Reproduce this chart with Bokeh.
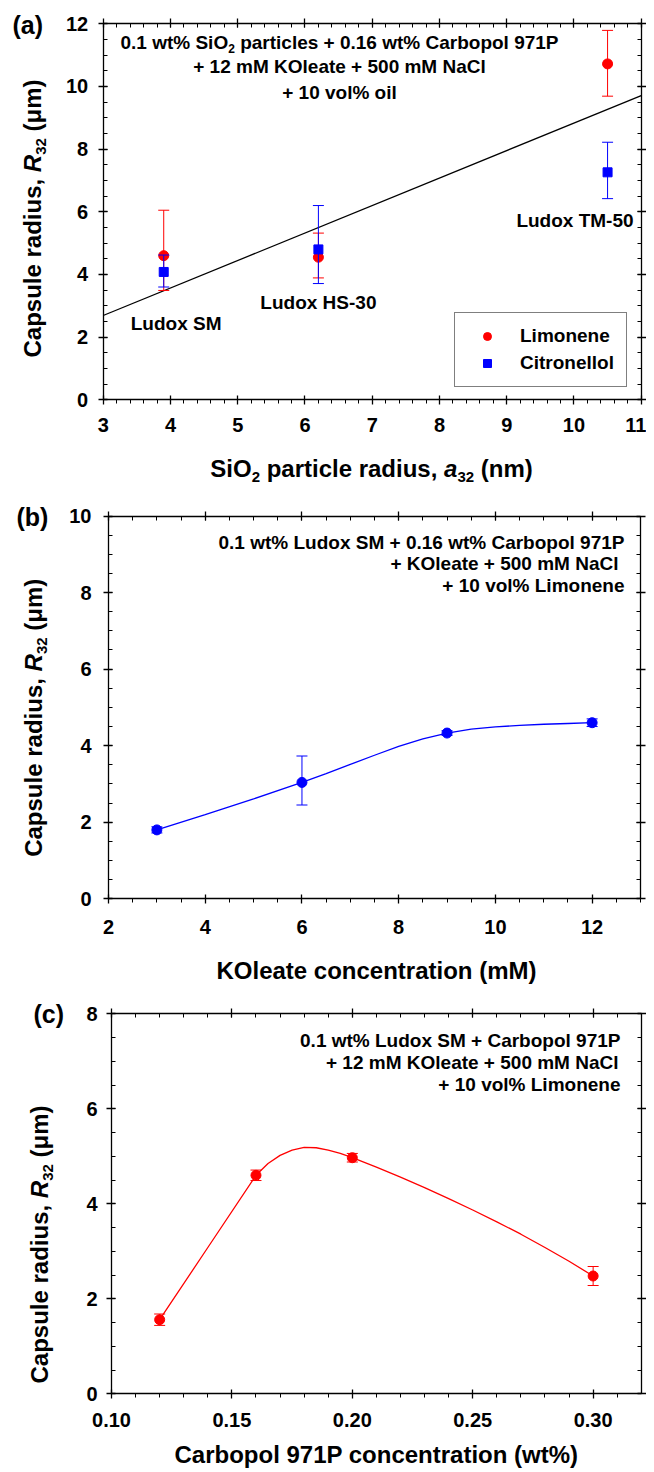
import math
from bokeh.plotting import figure
from bokeh.models import (LinearAxis, SingleIntervalTicker, Label, Range1d,
                          PrintfTickFormatter, Legend, LegendItem)
from bokeh.layouts import column
from bokeh.embed import file_html
from bokeh.resources import INLINE

FONT = "Liberation Sans"
RED = "#ff0000"
BLUE = "#0000ff"

# ---------------- data: panel (a) ----------------
a_particle_radius = [3.9, 6.2, 10.5]
a_limonene = [4.60, 4.55, 10.72]
a_limonene_hi = [6.05, 5.32, 11.79]
a_limonene_lo = [3.49, 3.89, 9.69]
a_citronellol = [4.08, 4.80, 7.26]
a_citronellol_hi = [4.62, 6.20, 8.22]
a_citronellol_lo = [3.60, 3.71, 6.42]
a_fit_x = [3.0, 11.0]
a_fit_y = [2.69, 9.71]
a_names = ["Ludox SM", "Ludox HS-30", "Ludox TM-50"]
a_legend = ["Limonene", "Citronellol"]

# ---------------- data: panel (b) ----------------
b_koleate = [3, 6, 9, 12]
b_radius = [1.80, 3.04, 4.33, 4.60]
b_hi = [1.88, 3.73, 4.39, 4.70]
b_lo = [1.72, 2.45, 4.27, 4.50]
b_curve_x = [3, 4, 5, 6, 6.5, 7, 7.5, 8, 8.5, 9, 9.5, 10, 10.5, 11, 11.5, 12]
b_curve_y = [1.80, 2.20, 2.61, 3.04, 3.27, 3.51, 3.75, 3.98, 4.18, 4.33, 4.43, 4.49, 4.53, 4.56, 4.58, 4.60]

# ---------------- data: panel (c) ----------------
c_carbopol = [0.12, 0.16, 0.20, 0.30]
c_radius = [1.56, 4.60, 4.97, 2.48]
c_hi = [1.68, 4.71, 5.06, 2.68]
c_lo = [1.44, 4.49, 4.88, 2.28]
c_curve_x = [0.12, 0.14, 0.16, 0.165, 0.17, 0.175, 0.18, 0.185, 0.19, 0.195, 0.20,
             0.21, 0.22, 0.23, 0.24, 0.25, 0.26, 0.27, 0.28, 0.29, 0.30]
c_curve_y = [1.56, 3.08, 4.60, 4.85, 5.02, 5.13, 5.19, 5.18, 5.13, 5.06, 4.97,
             4.77, 4.56, 4.34, 4.11, 3.87, 3.62, 3.36, 3.08, 2.79, 2.48]

# ---------------- texts ----------------
y_title = [("Capsule radius, ", 24, False, 0), ("R", 24, True, 0), ("32", 15, False, 5),
           (" (\u03bcm)", 24, False, 0)]
a_x_title = [("SiO", 24, False, 0), ("2", 15, False, 5), (" particle radius, ", 24, False, 0),
             ("a", 24, True, 0), ("32", 15, False, 5), (" (nm)", 24, False, 0)]
b_x_title = [("KOleate concentration (mM)", 24, False, 0)]
c_x_title = [("Carbopol 971P concentration (wt%)", 24, False, 0)]
a_note = [
    [("0.1 wt% SiO", 19, False, 0), ("2", 12, False, 4),
     (" particles + 0.16 wt% Carbopol 971P", 19, False, 0)],
    [("+ 12 mM KOleate + 500 mM NaCl", 19, False, 0)],
    [("+ 10 vol% oil", 19, False, 0)],
]
b_note = ["0.1 wt% Ludox SM + 0.16 wt% Carbopol 971P", "+ KOleate + 500 mM NaCl", "+ 10 vol% Limonene"]
c_note = ["0.1 wt% Ludox SM + Carbopol 971P", "+ 12 mM KOleate + 500 mM NaCl", "+ 10 vol% Limonene"]

# Arial / Liberation Sans Bold advance widths (per 1000 em)
AW = {' ': 278, '%': 889, '(': 333, ')': 333, '+': 584, ',': 278, '-': 333, '.': 278,
      'C': 722, 'K': 722, 'L': 611, 'M': 833, 'N': 722, 'O': 778, 'P': 667, 'R': 722,
      'S': 667, 'H': 722, 'T': 611, 'a': 556, 'b': 611, 'c': 556, 'd': 611, 'e': 556,
      'i': 278, 'l': 278, 'm': 889, 'n': 611, 'o': 611, 'p': 611, 'r': 389, 's': 556,
      't': 333, 'u': 611, 'v': 556, 'w': 778, 'x': 556, '\u03bc': 611}
for _d in "0123456789":
    AW[_d] = 556

W = 646   # canvas width of every panel
CAP = 0.358  # half cap height / em


def tw(s, size):
    return sum(AW.get(ch, 556) for ch in s) * size / 1000.0


class Panel:
    def __init__(self, top, height):
        self.top = top
        self.H = height

    def sy(self, page_y):
        return self.H - (page_y - self.top)


def rich(p, pieces, sx, sy, align="center", angle=0.0):
    """sx, sy: screen position of the text baseline start reference (baseline)."""
    total = sum(tw(t, s) for t, s, _, _ in pieces)
    cum = {"left": 0.0, "center": -total / 2.0, "right": -total}[align]
    for t, s, ital, shift in pieces:
        lead = len(t) - len(t.lstrip(" "))
        core = t.strip(" ")
        off = cum + tw(" " * lead, s)
        lift = CAP * s - shift   # from baseline up to centre of this piece's capitals
        if angle == 0:
            xo, yo = off, lift
        else:
            xo, yo = -lift, off
        p.add_layout(Label(x=sx, y=sy, x_units="screen", y_units="screen", x_offset=xo, y_offset=yo,
                           text=core, angle=angle, text_font=FONT, text_font_size=f"{s}px",
                           text_font_style="bold italic" if ital else "bold",
                           text_color="black", text_align="left", text_baseline="middle"))
        cum += tw(t, s)


def plain(p, text, sx, sy, size, align="left", x_units="screen", x_offset=0):
    p.add_layout(Label(x=sx, y=sy, x_units=x_units, y_units="screen", x_offset=x_offset, text=text,
                       text_font=FONT, text_font_size=f"{size}px", text_font_style="bold",
                       text_color="black", text_align=align, text_baseline="middle"))


def style_axis(ax, show_labels, standoff, minor_in, minor_out, loc, bounds):
    ax.fixed_location = loc
    ax.bounds = bounds
    ax.axis_line_color = "black"
    ax.axis_line_width = 1.3
    ax.major_tick_line_color = "black"
    ax.major_tick_line_width = 1.3
    ax.minor_tick_line_color = "black"
    ax.minor_tick_line_width = 1
    ax.major_tick_in = 4
    ax.major_tick_out = 5
    ax.minor_tick_in = minor_in
    ax.minor_tick_out = minor_out
    ax.axis_label = None
    if show_labels:
        ax.major_label_text_font = FONT
        ax.major_label_text_font_size = "20px"
        ax.major_label_text_font_style = "bold"
        ax.major_label_text_color = "black"
        ax.major_label_standoff = standoff
    else:
        ax.major_label_text_color = None
        ax.major_label_standoff = 0


def make_fig(panel, xlim, ylim, px, py, xint, xminor, yint, yminor, xstand, ystand, xfmt=None):
    """xlim/ylim: axis extents; px: canvas x of xlim; py: page y of (ylim[1], ylim[0])."""
    H = panel.H
    x0, x1 = xlim
    y0, y1 = ylim
    kx = (px[1] - px[0]) / (x1 - x0)
    ky = (py[1] - py[0]) / (y1 - y0)
    top_c = py[0] - panel.top
    bot_c = py[1] - panel.top
    xr = Range1d(x0 - px[0] / kx, x1 + (W - px[1]) / kx)
    yr = Range1d(y0 - (H - bot_c) / ky, y1 + top_c / ky)
    p = figure(x_range=xr, y_range=yr, width=W, height=H, min_border=0,
               output_backend="svg", toolbar_location=None, background_fill_color="white",
               border_fill_color="white")
    p.xgrid.visible = False
    p.ygrid.visible = False
    p.outline_line_color = None
    p.xaxis.ticker = SingleIntervalTicker(interval=xint, num_minor_ticks=xminor)
    p.yaxis.ticker = SingleIntervalTicker(interval=yint, num_minor_ticks=yminor)
    if xfmt:
        p.xaxis.formatter = PrintfTickFormatter(format=xfmt)
    style_axis(p.xaxis[0], True, xstand, 0, 4, y0, (x0, x1))
    style_axis(p.yaxis[0], True, ystand, 4, 0, x0, (y0, y1))
    top = LinearAxis(ticker=SingleIntervalTicker(interval=xint, num_minor_ticks=xminor))
    style_axis(top, False, 0, 4, 0, y1, (x0, x1))
    p.add_layout(top, "above")
    right = LinearAxis(ticker=SingleIntervalTicker(interval=yint, num_minor_ticks=yminor))
    style_axis(right, False, 0, 4, 0, x1, (y0, y1))
    p.add_layout(right, "right")
    return p


def errbars(p, x, hi, lo, color):
    p.segment(x0=x, y0=lo, x1=x, y1=hi, line_color=color, line_width=1)
    p.scatter(x=x, y=hi, marker="dash", size=11, line_color=color, line_width=1)
    p.scatter(x=x, y=lo, marker="dash", size=11, line_color=color, line_width=1)


# ================= panel (a) =================
A = Panel(0, 490)
pa = make_fig(A, (3, 11), (0, 12), (102.7, 640.7), (23.3, 399.3), 1, 5, 2, 4, 13, 10)
pa.line(a_fit_x, a_fit_y, line_color="black", line_width=1.3)
errbars(pa, a_particle_radius, a_limonene_hi, a_limonene_lo, RED)
r_lim = pa.scatter(a_particle_radius, a_limonene, marker="circle", size=10,
                   fill_color=RED, line_color=RED)
errbars(pa, a_particle_radius, a_citronellol_hi, a_citronellol_lo, BLUE)
r_cit = pa.scatter(a_particle_radius, a_citronellol, marker="square", size=9,
                   fill_color=BLUE, line_color=BLUE)
leg = Legend(items=[LegendItem(label=a_legend[0], renderers=[r_lim]),
                    LegendItem(label=a_legend[1], renderers=[r_cit])],
             location=(454, A.sy(387)))
leg.label_text_font = FONT
leg.label_text_font_size = "19px"
leg.label_text_font_style = "bold"
leg.label_text_color = "black"
leg.border_line_color = "black"
leg.border_line_width = 1
leg.background_fill_color = "white"
leg.background_fill_alpha = 1
leg.padding = 12
leg.spacing = 5
leg.glyph_width = 40
leg.glyph_height = 20
leg.label_height = 20
leg.label_standoff = 13
leg.margin = 0
pa.add_layout(leg)

rich(pa, y_title, 41, A.sy(218), align="center", angle=math.pi / 2)
rich(pa, a_x_title, 371, A.sy(476.5), align="center")
plain(pa, "(a)", 12, A.sy(24), 25)
for ln, by in zip(a_note, [48.5, 73, 98.5]):
    rich(pa, ln, 339, A.sy(by), align="center")
for name, xv, xo, py, al in zip(a_names, a_particle_radius, [-33, 0, 26], [322.7, 301.7, 220],
                                ["left", "center", "right"]):
    plain(pa, name, xv, A.sy(py), 19, align=al, x_units="data", x_offset=xo)

# ================= panel (b) =================
B = Panel(490, 498)
pb = make_fig(B, (2, 13), (0, 10), (108, 640), (515.5, 898.3), 2, 4, 2, 4, 16, 12)
pb.line(b_curve_x, b_curve_y, line_color=BLUE, line_width=1.3)
errbars(pb, b_koleate, b_hi, b_lo, BLUE)
pb.scatter(b_koleate, b_radius, marker="circle", size=10, fill_color=BLUE, line_color=BLUE)
rich(pb, y_title, 42, B.sy(717.3), align="center", angle=math.pi / 2)
rich(pb, b_x_title, 376, B.sy(978.5), align="center")
plain(pb, "(b)", 16, B.sy(516), 25)
for i, (ln, by) in enumerate(zip(b_note, [548.5, 569.5, 591.8])):
    rich(pb, [(ln, 19, False, 0)], 624 - (6 if i == 1 else 0), B.sy(by), align="right")

# ================= panel (c) =================
C = Panel(988, 484)
pc = make_fig(C, (0.10, 0.32), (0, 8), (111, 640.8), (1013.3, 1393.3), 0.05, 5, 2, 4, 14, 9,
              xfmt="%.2f")
pc.line(c_curve_x, c_curve_y, line_color=RED, line_width=1.3)
errbars(pc, c_carbopol, c_hi, c_lo, RED)
pc.scatter(c_carbopol, c_radius, marker="circle", size=10, fill_color=RED, line_color=RED)
rich(pc, y_title, 48, C.sy(1244), align="center", angle=math.pi / 2)
rich(pc, c_x_title, 376, C.sy(1463), align="center")
plain(pc, "(c)", 33, C.sy(1013), 25)
for i, (ln, by) in enumerate(zip(c_note, [1046.8, 1068.5, 1091.1])):
    rich(pc, [(ln, 19, False, 0)], 620 - (2 if i == 1 else 0), C.sy(by), align="right")

layout = column(pa, pb, pc, spacing=0)
open("out.html", "w").write(file_html(layout, INLINE))
